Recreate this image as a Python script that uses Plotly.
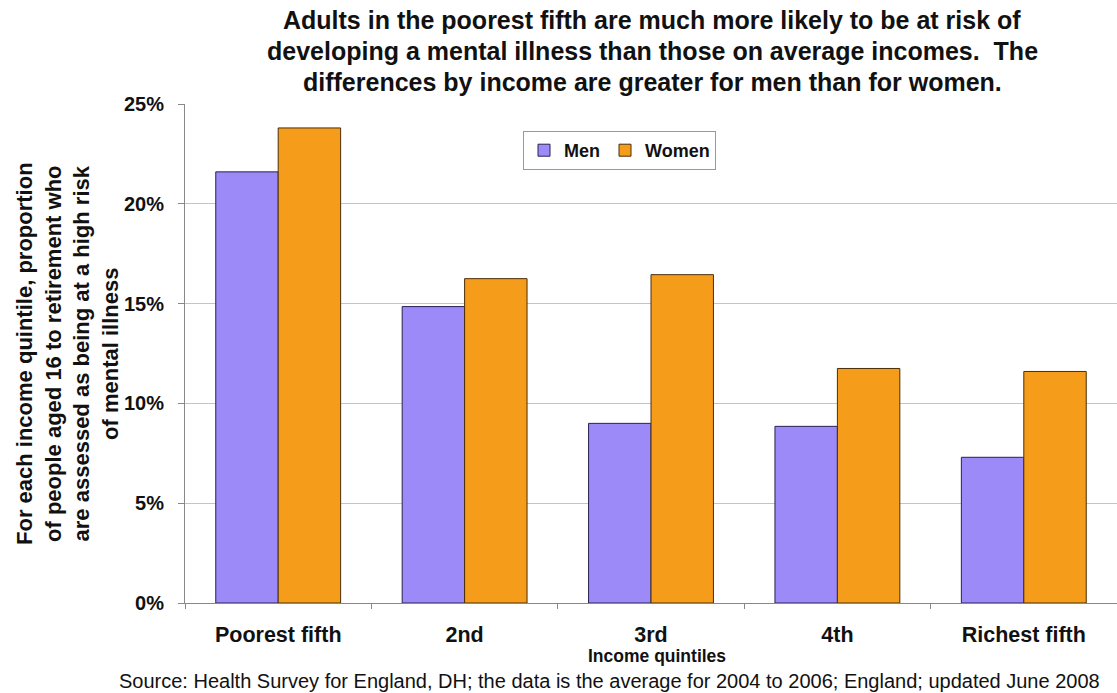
import plotly.graph_objects as go

categories = ["Poorest fifth", "2nd", "3rd", "4th", "Richest fifth"]
men = [21.6, 14.85, 9.0, 8.85, 7.3]
women = [23.8, 16.25, 16.45, 11.75, 11.6]
y_ticks = [0, 5, 10, 15, 20, 25]
y_tick_labels = ["0%", "5%", "10%", "15%", "20%", "25%"]

title_lines = ["Adults in the poorest fifth are much more likely to be at risk of",
               "developing a mental illness than those on average incomes.  The",
               "differences by income are greater for men than for women."]
y_title = ("For each income quintile, proportion<br>of people aged 16 to retirement who<br>"
           "are assessed as being at a high risk<br>of mental illness")
x_title = "Income quintiles"
source = "Source: Health Survey for England, DH; the data is the average for 2004 to 2006; England; updated June 2008"

FONT = "Liberation Sans, Arial, sans-serif"
W, H = 1117, 693
L, R, T, B = 185, 0, 104, 90
PW, PH = W - L - R, H - T - B


def px(xp):
    return (xp - L) / PW


def py(yp):
    return (H - B - yp) / PH


fig = go.Figure()
fig.add_trace(go.Bar(x=categories, y=men, name="<b>Men</b>",
                     marker=dict(color="#9B8AF7", line=dict(color="#2a2250", width=1))))
fig.add_trace(go.Bar(x=categories, y=women, name="<b>Women</b>",
                     marker=dict(color="#F59D1B", line=dict(color="#4a2e08", width=1))))

fig.update_layout(
    width=W, height=H,
    margin=dict(l=L, r=R, t=T, b=B),
    paper_bgcolor="white", plot_bgcolor="white",
    barmode="group", bargap=0.33, bargroupgap=0,
    font=dict(family=FONT, color="#111"),
    legend=dict(orientation="h", x=px(523), y=py(131),
                xanchor="left", yanchor="top", bordercolor="#999", borderwidth=1,
                bgcolor="white", font=dict(size=18, family=FONT, color="#111"),
                traceorder="normal"),
    xaxis=dict(type="category", tickson="boundaries", ticks="outside", ticklen=5,
               tickcolor="#888", showline=True, linecolor="#888", linewidth=1,
               tickvals=categories, ticktext=["<b>%s</b>" % c for c in categories],
               ticklabelstandoff=12,
               tickfont=dict(size=21.5, family=FONT, color="#111"), showgrid=False),
    yaxis=dict(range=[0, 25], tickvals=y_ticks, ticktext=["<b>%s</b>" % t for t in y_tick_labels],
               ticks="outside", ticklen=6, tickcolor="#888", showline=True, linecolor="#888",
               linewidth=1, gridcolor="#c4c4c4", gridwidth=1, zeroline=False,
               ticklabelstandoff=10,
               tickfont=dict(size=20, family=FONT, color="#111")),
)

title_y = [20, 51, 82]
for line, yy in zip(title_lines, title_y):
    fig.add_annotation(text="<b>" + line + "</b>", xref="paper", yref="paper",
                       x=px(652), y=py(yy), xanchor="center", yanchor="middle",
                       showarrow=False, font=dict(size=25, family=FONT, color="#111"))

fig.add_annotation(text="<b>" + y_title + "</b>", xref="paper", yref="paper",
                   x=px(67), y=py(354), xanchor="center", yanchor="middle",
                   textangle=-90, showarrow=False,
                   font=dict(size=22, family=FONT, color="#111"))
fig.add_annotation(text="<b>" + x_title + "</b>", xref="paper", yref="paper",
                   x=px(657), y=py(656), xanchor="center", yanchor="middle",
                   showarrow=False, font=dict(size=17.5, family=FONT, color="#111"))
fig.add_annotation(text=source, xref="paper", yref="paper",
                   x=px(609), y=py(681), xanchor="center", yanchor="middle",
                   showarrow=False, font=dict(size=20, family=FONT, color="#111"))

fig.write_html("out.html")
